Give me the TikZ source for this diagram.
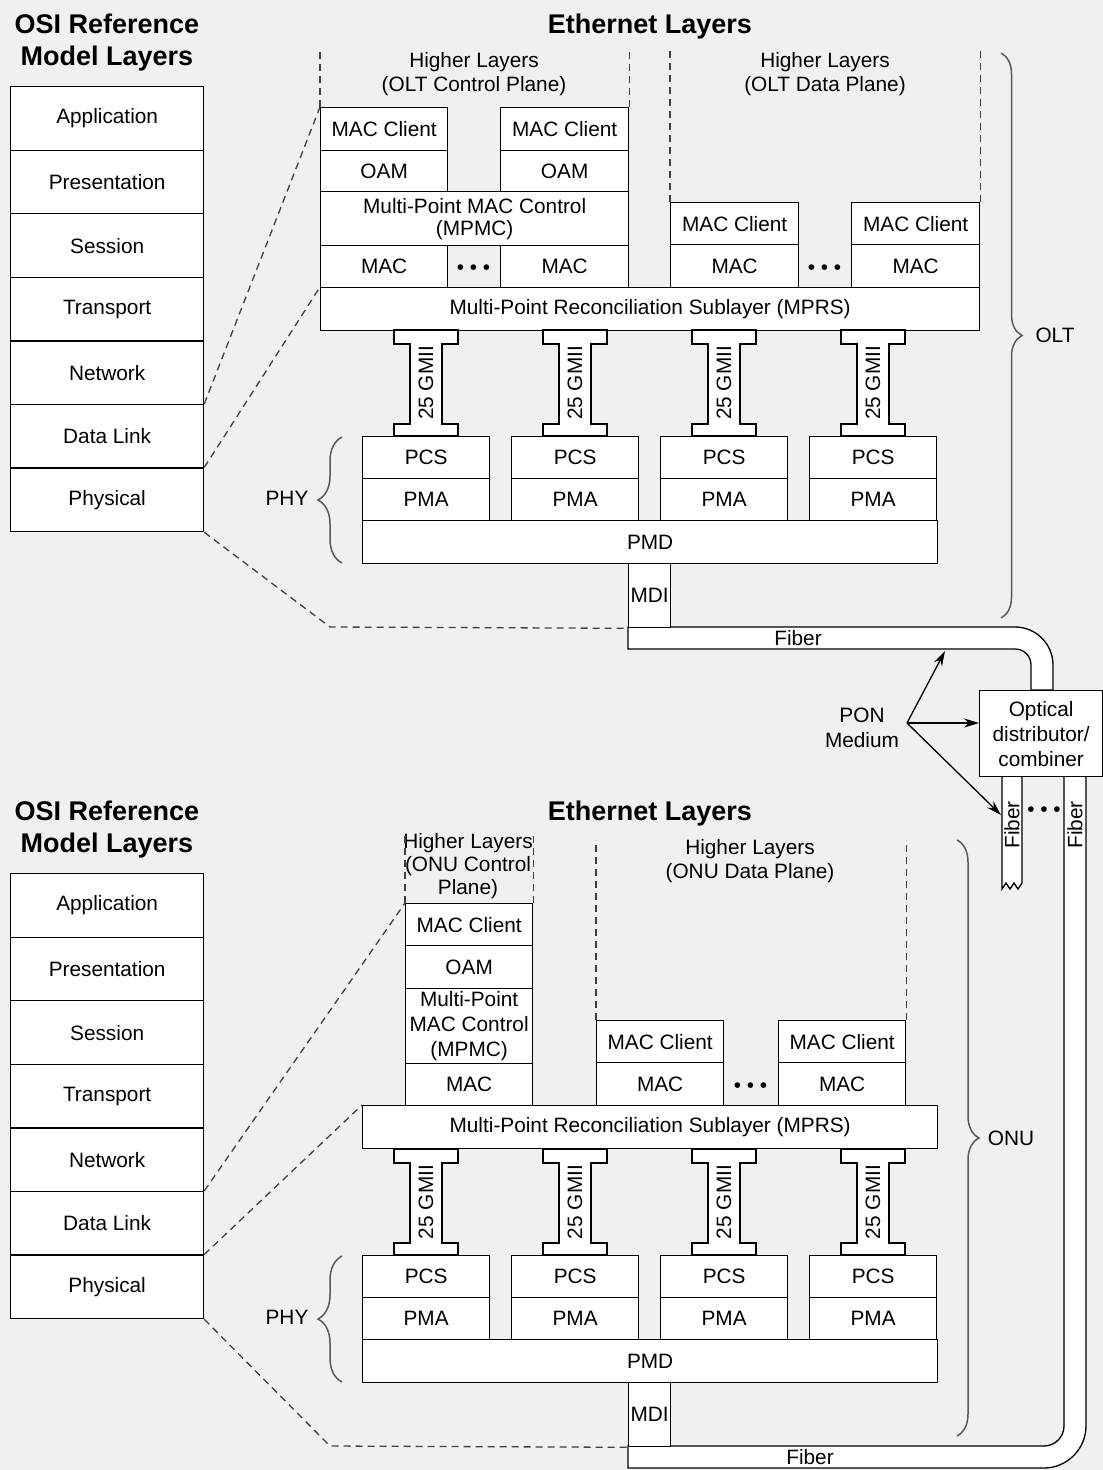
\documentclass[tikz,border=0pt]{standalone}
\usepackage{fontspec}
\setmainfont{Liberation Sans}
\usetikzlibrary{arrows.meta, decorations.pathreplacing, calc}
\definecolor{bgc}{RGB}{240,240,240}

\begin{document}
\begin{tikzpicture}[
    x=1pt, y=-1pt,
    every node/.style={font=\fontsize{20.8}{24}\selectfont, inner sep=0pt},
    box/.style={
        draw,
        fill=white,
        line width=1.3pt,
        anchor=north west,
        align=center
    },
    sz/.style 2 args={minimum width=#1pt, minimum height=#2pt},
    headline/.style={font=\bfseries\fontsize{27}{32}\selectfont, align=center},
    hl/.style={align=center},
    dashln/.style={dash pattern=on 7pt off 5pt, line width=1.3pt, black!75},
    bracepath/.style={decorate, decoration={brace, amplitude=#1}, line width=1.5pt, black!65},
    ptr/.style={-{Stealth[length=15pt, width=9pt]}, line width=1.3pt},
    fiber/.style={draw, fill=white, line width=1.3pt}
]

    % Canvas
    \useasboundingbox (0,0) rectangle (1103,1470);
    \fill[bgc] (0,0) rectangle (1103,1470);

    % Titles
    \node[headline] (osititleA) at (107,43) {OSI Reference\\Model Layers};
    \node[headline] (ethtitleA) at (650,27) {Ethernet Layers};
    \node[headline] (osititleB) at (107,830) {OSI Reference\\Model Layers};
    \node[headline] (ethtitleB) at (650,814) {Ethernet Layers};

    % OSI stacks
    \foreach \lay [count=\i] in {Application,Presentation,Session,Transport,Network,Data Link,Physical} {
        \node[box, sz={193}{63.6}] (osiA\i) at (10,{86+(\i-1)*63.57}) {\lay};
        \node[box, sz={193}{63.6}] (osiB\i) at (10,{873+(\i-1)*63.57}) {\lay};
    }

    % OLT higher layers
    \node[hl] (hlctrlA) at (474,74) {Higher Layers\\(OLT Control Plane)};
    \node[hl] (hldataA) at (825,74) {Higher Layers\\(OLT Data Plane)};

    \node[box, sz={127}{43}] (cpclientA1) at (320,107) {MAC Client};
    \node[box, sz={128}{43}] (cpclientA2) at (500,107) {MAC Client};
    \node[box, sz={127}{41}] (oamA1) at (320,150) {OAM};
    \node[box, sz={128}{41}] (oamA2) at (500,150) {OAM};
    \node[box, sz={308}{54}, font=\fontsize{20.8}{22}\selectfont] (mpmcA) at (320,191) {Multi-Point MAC Control\\(MPMC)};
    \node[box, sz={127}{42}] (cpmacA1) at (320,245) {MAC};
    \node[box, sz={128}{42}] (cpmacA2) at (500,245) {MAC};
    \node (cpdotsA) at (473.5,270) {\textbullet\ \textbullet\ \textbullet};

    \node[box, sz={128}{42}] (dpclientA1) at (670,202) {MAC Client};
    \node[box, sz={128}{42}] (dpclientA2) at (851,202) {MAC Client};
    \node[box, sz={128}{43}] (dpmacA1) at (670,244) {MAC};
    \node[box, sz={128}{43}] (dpmacA2) at (851,244) {MAC};
    \node (dpdotsA) at (824.5,270) {\textbullet\ \textbullet\ \textbullet};

    \node[box, sz={659}{43}] (mprsA) at (320,287) {Multi-Point Reconciliation Sublayer (MPRS)};

    \draw[dashln] (cpclientA1.north west) -- ++(0,-57);
    \draw[dashln] (cpclientA2.north east) -- ++(0,-57);
    \draw[dashln] (dpclientA1.north west) -- ++(0,-152);
    \draw[dashln] (dpclientA2.north east) -- ++(0,-152);

    % ONU higher layers
    \node[hl, font=\fontsize{20.8}{23}\selectfont] (hlctrlB) at (468,866) {Higher Layers\\(ONU Control\\Plane)};
    \node[hl] (hldataB) at (750,861) {Higher Layers\\(ONU Data Plane)};

    \node[box, sz={127}{42}] (cpclientB) at (405,903) {MAC Client};
    \node[box, sz={127}{43}] (oamB) at (405,945) {OAM};
    \node[box, sz={127}{75}, font=\fontsize{20.8}{25}\selectfont] (mpmcB) at (405,988) {Multi-Point\\MAC Control\\(MPMC)};
    \node[box, sz={127}{42}] (cpmacB) at (405,1063) {MAC};

    \node[box, sz={127}{42}] (dpclientB1) at (596,1020) {MAC Client};
    \node[box, sz={127}{42}] (dpclientB2) at (778,1020) {MAC Client};
    \node[box, sz={127}{43}] (dpmacB1) at (596,1062) {MAC};
    \node[box, sz={127}{43}] (dpmacB2) at (778,1062) {MAC};
    \node (dpdotsB) at (750.5,1088) {\textbullet\ \textbullet\ \textbullet};

    \node[box, sz={575}{43}] (mprsB) at (362,1105) {Multi-Point Reconciliation Sublayer (MPRS)};

    \draw[dashln] (cpclientB.north west) -- ++(0,-68);
    \draw[dashln] (cpclientB.north east) -- ++(0,-68);
    \draw[dashln] (dpclientB1.north west) -- ++(0,-180);
    \draw[dashln] (dpclientB2.north east) -- ++(0,-180);

    % PHY stacks with 25 GMII links
    \foreach \p/\oy in {A/0,B/819} {
        \foreach \i in {1,...,4} {
            \pgfmathsetmacro{\px}{362+(\i-1)*149}
            \pgfmathsetmacro{\gx}{\px+64}
            \draw[fill=white, line width=1.3pt] ({\gx-32},{330+\oy}) -- ++(0,14) -- ++(16,0) -- ++(0,80)
                -- ++(-16,0) -- ++(0,12) -- ++(64,0) -- ++(0,-12) -- ++(-16,0) -- ++(0,-80)
                -- ++(16,0) -- ++(0,-14) -- cycle;
            \node[rotate=90] (gmii\p\i) at (\gx,{383+\oy}) {25 GMII};
            \node[box, sz={127}{42}] (pcs\p\i) at (\px,{436+\oy}) {PCS};
            \node[box, sz={127}{42}] (pma\p\i) at (\px,{478+\oy}) {PMA};
        }
        \node[box, sz={575}{43}] (pmd\p) at (362,{520+\oy}) {PMD};
        \draw[bracepath=24pt] (342,{563+\oy}) -- (342,{437+\oy});
        \node (phy\p) at (287,{498+\oy}) {PHY};
    }

    % Fibers
    \draw[fiber] (628,627) -- (1015,627) .. controls (1036,627) and (1053,644) .. (1053,665)
        -- (1053,690) -- (1031,690) -- (1031,665) .. controls (1031,656) and (1024,649) .. (1015,649)
        -- (628,649) -- cycle;
    \draw[fiber] (628,1446) -- (1044,1446) .. controls (1055,1446) and (1064,1437) .. (1064,1426)
        -- (1064,776) -- (1086,776) -- (1086,1426) .. controls (1086,1449) and (1067,1468) .. (1044,1468)
        -- (628,1468) -- cycle;
    \draw[fiber] (1002,776) -- (1002,889) -- (1006,883) -- (1010,889) -- (1014,883) -- (1018,889)
        -- (1022,883) -- (1022,776) -- cycle;

    \node[box, sz={42}{64}] (mdiA) at (628,563) {MDI};
    \node[box, sz={42}{64}] (mdiB) at (628,1382) {MDI};
    \node (fiberA) at (798,638) {Fiber};
    \node (fiberB) at (810,1457) {Fiber};
    \node[rotate=90] (dropfiber1) at (1012,825) {Fiber};
    \node[rotate=90] (dropfiber2) at (1075,825) {Fiber};
    \node (dropdots) at (1044,812) {\textbullet\ \textbullet\ \textbullet};

    % Splitter and PON medium
    \node[box, sz={123}{86}, font=\fontsize{20.8}{25}\selectfont] (optic) at (979,690) {Optical\\distributor/\\combiner};
    \node[hl, font=\fontsize{20.8}{25}\selectfont] (pon) at (862,728) {PON\\Medium};
    \coordinate (ponfork) at (907,723);
    \coordinate (fibertap) at (945,651);
    \coordinate (droptap) at (1001,815);
    \draw[ptr] (ponfork) -- (fibertap);
    \draw[ptr] (ponfork) -- (ponfork -| optic.west);
    \draw[ptr] (ponfork) -- (droptap);

    % Braces
    \draw[bracepath=21pt] (1001,53) -- (1001,618);
    \node (olt) at (1055,335) {OLT};
    \draw[bracepath=22pt] (957,840) -- (957,1436);
    \node (onu) at (1011,1138) {ONU};

    % Mapping OSI to Ethernet layers
    \coordinate (bendA) at (330,627);
    \coordinate (bendB) at (330,1446);
    \draw[dashln] (osiA6.north east) -- (cpclientA1.north west);
    \draw[dashln] (osiA7.north east) -- (mprsA.north west);
    \draw[dashln] (osiA7.south east) -- (bendA) -- (mdiA.south west);
    \draw[dashln] (osiB6.north east) -- (cpclientB.north west);
    \draw[dashln] (osiB7.north east) -- (mprsB.north west);
    \draw[dashln] (osiB7.south east) -- (bendB) -- (mdiB.south west);

\end{tikzpicture}
\end{document}
